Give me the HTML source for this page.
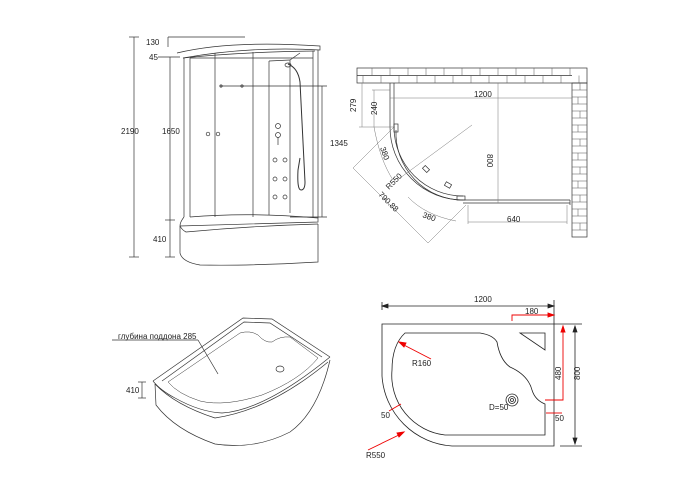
<!DOCTYPE html>
<html><head><meta charset="utf-8"><style>
html,body{margin:0;padding:0;background:#fff;}
svg{display:block;font-family:"Liberation Sans","Noto Sans CJK JP",sans-serif;}
text{font-size:8px;fill:#222;}
</style></head><body>
<svg width="700" height="500" viewBox="0 0 700 500" xmlns="http://www.w3.org/2000/svg">
<g fill="none" stroke="#333" stroke-width="0.7">
<line x1="134" y1="37" x2="134" y2="257"/>
<line x1="129" y1="37" x2="139" y2="37"/><line x1="129" y1="257" x2="139" y2="257"/>
<line x1="168" y1="37" x2="245" y2="37"/><line x1="168" y1="37" x2="168" y2="47"/>
<line x1="158" y1="57" x2="180" y2="57"/>
<line x1="170" y1="57" x2="170" y2="257"/>
<line x1="165" y1="220" x2="175" y2="220"/><line x1="165" y1="257" x2="175" y2="257"/>
<path d="M177 53 Q230 40 320 46 L320 50 Q250 46 183 58"/>
<path d="M183 58 Q240 52 315 51"/>
<line x1="184" y1="58" x2="184" y2="217"/><line x1="190" y1="58" x2="190" y2="217"/>
<line x1="313" y1="51" x2="313" y2="218"/><line x1="318" y1="50" x2="318" y2="218"/>
<line x1="190" y1="58" x2="313" y2="58"/>
<line x1="215" y1="53" x2="215" y2="217"/><line x1="253" y1="52" x2="253" y2="217"/>
<line x1="269" y1="61" x2="269" y2="215"/><line x1="290" y1="60" x2="290" y2="213"/>
<line x1="269" y1="61" x2="290" y2="60"/><line x1="290" y1="60" x2="300" y2="53"/>
<path d="M184 217 Q180 222 180 226 L318 222 L318 218 Q250 212 190 217"/>
<path d="M180 226 Q182 230 186 232 Q250 226 318 224"/>
<path d="M180 226 L180 253 Q182 262 200 265 Q250 266 318 262 L318 224"/>
<line x1="220" y1="86" x2="327" y2="86"/>
<line x1="322" y1="86" x2="322" y2="217"/>
<line x1="290" y1="217" x2="327" y2="217"/>
<path d="M288 64 Q298 68 300 82 L305 182 Q305 190 301 190 Q297 190 298 170 L300 158" stroke-width="1"/>
<ellipse cx="288" cy="65" rx="3" ry="2"/>
<circle cx="208" cy="134" r="1.8"/><circle cx="218" cy="134" r="1.8"/>
<circle cx="221" cy="86" r="1.2"/><circle cx="242" cy="86" r="1.2"/>
<circle cx="278" cy="126" r="2.5"/><circle cx="278" cy="135" r="2.5"/><line x1="278" y1="137" x2="278" y2="145"/>
<circle cx="275" cy="160" r="2"/><circle cx="285" cy="160" r="2"/>
<circle cx="275" cy="179" r="2"/><circle cx="285" cy="179" r="2"/>
<circle cx="275" cy="197" r="2"/><circle cx="285" cy="197" r="2"/>
</g>
<text x="146" y="45">130</text>
<text x="149" y="60">45</text>
<text x="121" y="134">2190</text>
<text x="162" y="134">1650</text>
<text x="153" y="242">410</text>
<text x="330" y="146">1345</text>

<g stroke="#333" stroke-width="0.7" fill="none">
<rect x="357" y="68" width="230" height="15"/>
<rect x="572" y="83" width="15" height="154"/>
<line x1="357" y1="75.5" x2="572" y2="75.5"/>
</g>
<g stroke="#555" stroke-width="0.5">
<line x1="372" y1="68" x2="372" y2="75.5"/><line x1="390" y1="68" x2="390" y2="75.5"/><line x1="408" y1="68" x2="408" y2="75.5"/><line x1="426" y1="68" x2="426" y2="75.5"/><line x1="444" y1="68" x2="444" y2="75.5"/><line x1="462" y1="68" x2="462" y2="75.5"/><line x1="480" y1="68" x2="480" y2="75.5"/><line x1="498" y1="68" x2="498" y2="75.5"/><line x1="516" y1="68" x2="516" y2="75.5"/><line x1="534" y1="68" x2="534" y2="75.5"/><line x1="552" y1="68" x2="552" y2="75.5"/><line x1="570" y1="68" x2="570" y2="75.5"/>
<line x1="363" y1="75.5" x2="363" y2="83"/><line x1="381" y1="75.5" x2="381" y2="83"/><line x1="399" y1="75.5" x2="399" y2="83"/><line x1="417" y1="75.5" x2="417" y2="83"/><line x1="435" y1="75.5" x2="435" y2="83"/><line x1="453" y1="75.5" x2="453" y2="83"/><line x1="471" y1="75.5" x2="471" y2="83"/><line x1="489" y1="75.5" x2="489" y2="83"/><line x1="507" y1="75.5" x2="507" y2="83"/><line x1="525" y1="75.5" x2="525" y2="83"/><line x1="543" y1="75.5" x2="543" y2="83"/><line x1="561" y1="75.5" x2="561" y2="83"/><line x1="579" y1="75.5" x2="579" y2="83"/>
<line x1="572" y1="90" x2="587" y2="90"/><line x1="572" y1="97" x2="587" y2="97"/><line x1="572" y1="104" x2="587" y2="104"/><line x1="572" y1="111" x2="587" y2="111"/><line x1="572" y1="118" x2="587" y2="118"/><line x1="572" y1="125" x2="587" y2="125"/><line x1="572" y1="132" x2="587" y2="132"/><line x1="572" y1="139" x2="587" y2="139"/><line x1="572" y1="146" x2="587" y2="146"/><line x1="572" y1="153" x2="587" y2="153"/><line x1="572" y1="160" x2="587" y2="160"/><line x1="572" y1="167" x2="587" y2="167"/><line x1="572" y1="174" x2="587" y2="174"/><line x1="572" y1="181" x2="587" y2="181"/><line x1="572" y1="188" x2="587" y2="188"/><line x1="572" y1="195" x2="587" y2="195"/><line x1="572" y1="202" x2="587" y2="202"/><line x1="572" y1="209" x2="587" y2="209"/><line x1="572" y1="216" x2="587" y2="216"/><line x1="572" y1="223" x2="587" y2="223"/><line x1="572" y1="230" x2="587" y2="230"/>
<line x1="580" y1="83" x2="580" y2="90"/><line x1="578" y1="97" x2="578" y2="104"/><line x1="580" y1="111" x2="580" y2="118"/><line x1="578" y1="125" x2="578" y2="132"/><line x1="580" y1="139" x2="580" y2="146"/><line x1="578" y1="153" x2="578" y2="160"/><line x1="580" y1="167" x2="580" y2="174"/><line x1="578" y1="181" x2="578" y2="188"/><line x1="580" y1="195" x2="580" y2="202"/><line x1="578" y1="209" x2="578" y2="216"/><line x1="580" y1="223" x2="580" y2="230"/>
</g>
<g fill="none" stroke="#333" stroke-width="0.7">
<path d="M390 83 V127 A73 73 0 0 0 463 200 H570"/>
<path d="M394 83 V127 A69 69 0 0 0 463 196"/>
<path d="M396 130 A67 67 0 0 0 463 200"/>
<line x1="463" y1="203" x2="570" y2="203"/>
<line x1="570" y1="200" x2="570" y2="205"/>
<rect x="394" y="124" width="4" height="8"/>
<rect x="423" y="167" width="6" height="4" transform="rotate(45 426 169)"/>
<rect x="445" y="183" width="6" height="4" transform="rotate(30 448 185)"/>
<rect x="457" y="196" width="8" height="4"/>
</g>
<g fill="none" stroke="#777" stroke-width="0.5">
<line x1="390" y1="98" x2="572" y2="98"/>
<line x1="498" y1="83" x2="498" y2="203"/>
<line x1="468" y1="222" x2="567" y2="222"/>
<line x1="468" y1="205" x2="468" y2="224"/><line x1="567" y1="205" x2="567" y2="224"/>
<line x1="362" y1="83" x2="362" y2="127"/><line x1="359" y1="83" x2="390" y2="83"/><line x1="359" y1="127" x2="395" y2="127"/>
<line x1="374" y1="90" x2="374" y2="127"/><line x1="372" y1="90" x2="390" y2="90"/>
<line x1="400" y1="178" x2="472" y2="125"/>
<line x1="353" y1="168" x2="428" y2="243"/>
<line x1="428" y1="243" x2="466" y2="205"/>
<line x1="353" y1="168" x2="394" y2="127"/>
<path d="M374 127 Q380 160 393 180"/>
<path d="M408 197 Q425 215 456 221"/>
</g>
<text x="474" y="97">1200</text>
<text x="507" y="222">640</text>
<text transform="translate(487,154) rotate(90)">800</text>
<text transform="translate(356,112) rotate(-90)">279</text>
<text transform="translate(377,115) rotate(-90)">240</text>
<text transform="translate(380,148) rotate(70)">380</text>
<text transform="translate(389,190) rotate(-45)">R550</text>
<text transform="translate(378,195) rotate(45)">790.88</text>
<text transform="translate(422,217) rotate(20)">380</text>

<!-- ===== Tray 3D ===== -->
<g fill="none" stroke="#333" stroke-width="0.7">
<path d="M153 381 L243 318 L272 319 L330 357"/>
<path d="M153 381 Q160 390 175 398 Q200 412 222 413 Q265 410 330 357"/>
<path d="M155 384 Q175 405 215 418 Q270 410 328 362"/>
<path d="M162 381 L244 322 L270 323 L322 357"/>
<path d="M168 382 L240 333 Q250 330 258 335 Q265 343 272 342 Q280 336 290 337 L318 358 Q300 380 262 395 Q225 407 200 401 Q178 394 168 382 Z" stroke-width="0.5"/>
<path d="M155 384 L156 405 Q175 430 215 444 Q255 450 290 432 Q318 412 330 360"/>
<ellipse cx="280" cy="369" rx="4" ry="3"/>
<line x1="112" y1="340" x2="198" y2="340"/><line x1="198" y1="340" x2="218" y2="374"/>
<line x1="138" y1="382" x2="146" y2="382"/><line x1="138" y1="398" x2="146" y2="398"/>
<line x1="142" y1="382" x2="142" y2="398"/>
</g>
<text x="118" y="339">глубина поддона 285</text>
<text x="126" y="393">410</text>

<g fill="none" stroke="#222" stroke-width="0.8">
<path d="M382 324 H554 V446 H452 A75 75 0 0 1 382 376 Z"/>
<path d="M405 333 H480 Q493 335 497 342 Q500 360 510 367 Q528 375 532 390 Q535 400 545 404 V435 H445 A60 60 0 0 1 392 370 Q392 345 405 333 Z"/>
<path d="M520 333 H545 V350 Z"/>
<circle cx="512" cy="400" r="6"/><circle cx="512" cy="400" r="3.5"/><circle cx="512" cy="400" r="1.5"/>
<line x1="382" y1="306" x2="554" y2="306"/>
<line x1="382" y1="302" x2="382" y2="310"/><line x1="554" y1="300" x2="554" y2="324"/>
<line x1="554" y1="324" x2="582" y2="324"/><line x1="560" y1="446" x2="582" y2="446"/>
<line x1="575" y1="326" x2="575" y2="444"/>
<path d="M382 306 l6 -2 v4 z M554 306 l-6 -2 v4 z M575 326 l-2 6 h4 z M575 444 l-2 -6 h4 z" fill="#222"/>
</g>
<g fill="none" stroke="#e00" stroke-width="0.9">
<path d="M512 321 V315 H552"/><path d="M554 315 l-6 -2 v4 z" fill="#e00"/>
<path d="M545 400 H563 V328"/><path d="M563 326 l-2 6 h4 z" fill="#e00"/>
<line x1="546" y1="413" x2="562" y2="413"/>
<line x1="431" y1="359" x2="400" y2="343"/><path d="M399 342 l7 1 l-2 4 z" fill="#e00"/>
<line x1="389" y1="411" x2="401" y2="404"/>
<line x1="368" y1="450" x2="403" y2="433"/><path d="M404 432 l-7 1 l2 4 z" fill="#e00"/>
</g>
<text x="474" y="302">1200</text>
<text x="525" y="314">180</text>
<text transform="translate(561,380) rotate(-90)">480</text>
<text transform="translate(580,380) rotate(-90)">800</text>
<text x="412" y="366">R160</text>
<text x="489" y="410">D=50</text>
<text x="381" y="418">50</text>
<text x="555" y="421">50</text>
<text x="366" y="458">R550</text>
</svg>
</body></html>
